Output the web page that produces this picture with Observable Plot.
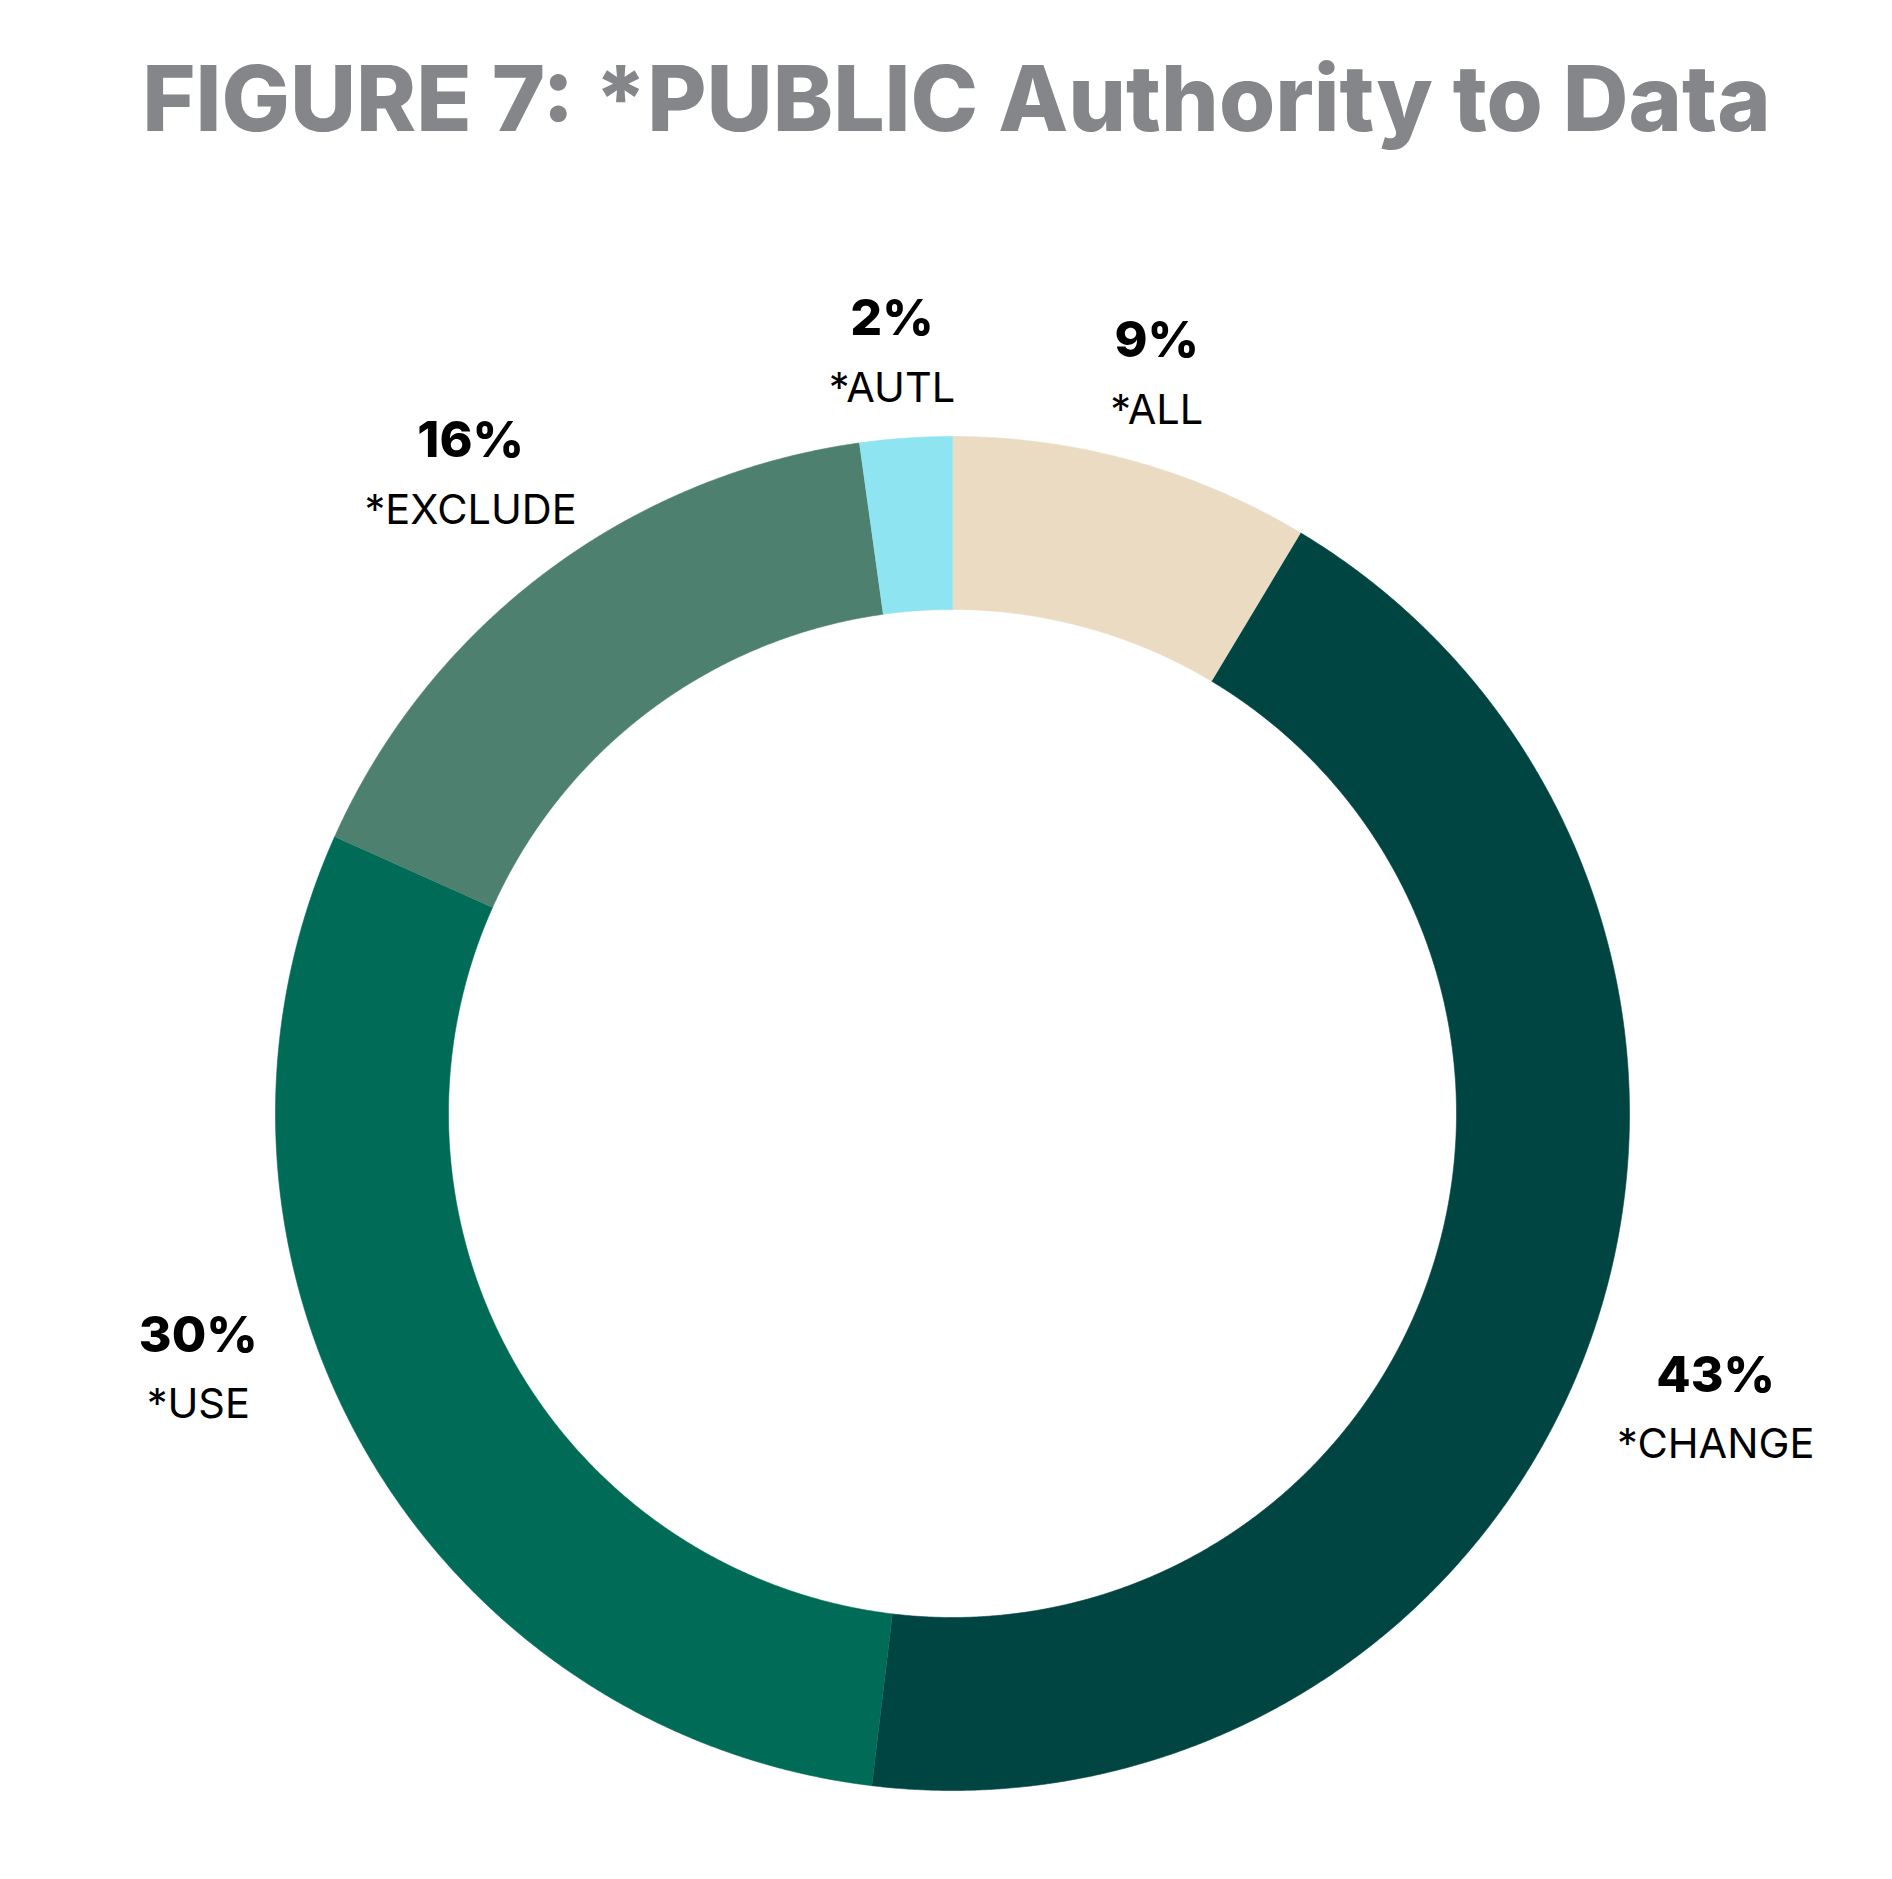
<!DOCTYPE html>
<html><head><meta charset="utf-8">
<script src="https://cdn.jsdelivr.net/npm/d3@7"></script>
<script src="https://cdn.jsdelivr.net/npm/@observablehq/plot@0.6"></script>
<style>body{margin:0;background:#fff}</style>
</head><body><div id="chart"></div>
<script>
const title = ["FIGURE 7: *PUBLIC Authority to Data"];
const categories = ["*ALL", "*CHANGE", "*USE", "*EXCLUDE", "*AUTL"];
const shares = [8.6, 43.3, 29.8, 16.1, 2.2];
const percentLabels = ["9%", "43%", "30%", "16%", "2%"];
const colors = ["#EADBC2", "#004542", "#006B56", "#4E8070", "#8EE4F1"];

// layout (pixels)
const W = 1892, H = 1879, cx = 952, cy = 1113, R = 677, R0 = 504;
const inner = R0 / R;
const labelLayout = {
  "*ALL": {shift: 0, r: 1.13},
  "*CHANGE": {shift: 2.4, r: 1.21},
  "*USE": {shift: 10.7, r: 1.177},
  "*EXCLUDE": {shift: -0.2, r: 1.18},
  "*AUTL": {shift: -0.6, r: 1.125}
};

const total = d3.sum(shares);
let acc = 0;
const slices = categories.map((c, i) => {
  const a0 = acc / total * 2 * Math.PI;
  acc += shares[i];
  const a1 = acc / total * 2 * Math.PI;
  return {c, a0, a1, i};
});
const pts = [];
for (const s of slices) {
  const n = Math.max(8, Math.ceil((s.a1 - s.a0) / 0.004));
  for (let k = 0; k <= n; k++) { const a = s.a0 + (s.a1 - s.a0) * k / n; pts.push({c: s.c, x: Math.sin(a), y: Math.cos(a)}); }
  for (let k = n; k >= 0; k--) { const a = s.a0 + (s.a1 - s.a0) * k / n; pts.push({c: s.c, x: inner * Math.sin(a), y: inner * Math.cos(a)}); }
}
const labelData = slices.map(s => {
  const L = labelLayout[s.c];
  const a = (s.a0 + s.a1) / 2 + L.shift * Math.PI / 180;
  return {c: s.c, pct: percentLabels[s.i], x: L.r * Math.sin(a), y: L.r * Math.cos(a)};
});

const chart = Plot.plot({
  width: W, height: H,
  marginLeft: 0, marginRight: 0, marginTop: 0, marginBottom: 0,
  x: {domain: [-cx / R, (W - cx) / R], axis: null},
  y: {domain: [-(H - cy) / R, cy / R], axis: null},
  color: {domain: categories, range: colors},
  style: {background: "#fff"},
  marks: [
    Plot.line(pts, {x: "x", y: "y", z: "c", fill: "c", stroke: "c", strokeWidth: 0.6}),
    Plot.text(labelData, {x: "x", y: "y", text: "pct", dy: -35, fontSize: 50, fontWeight: 800, fill: "#000", fontFamily: "Inter"}),
    Plot.text(labelData, {x: "x", y: "y", text: "c", dy: 34, fontSize: 41.5, fontWeight: 400, fill: "#000", fontFamily: "Inter"}),
    Plot.text(title, {frameAnchor: "top", lineAnchor: "top", dx: 10, dy: 66, fontSize: 91, fontWeight: 800, fill: "#858689", fontFamily: "Inter", style: "letter-spacing:0.3px"})
  ]
});
document.getElementById("chart").appendChild(chart);
</script>
</body></html>
